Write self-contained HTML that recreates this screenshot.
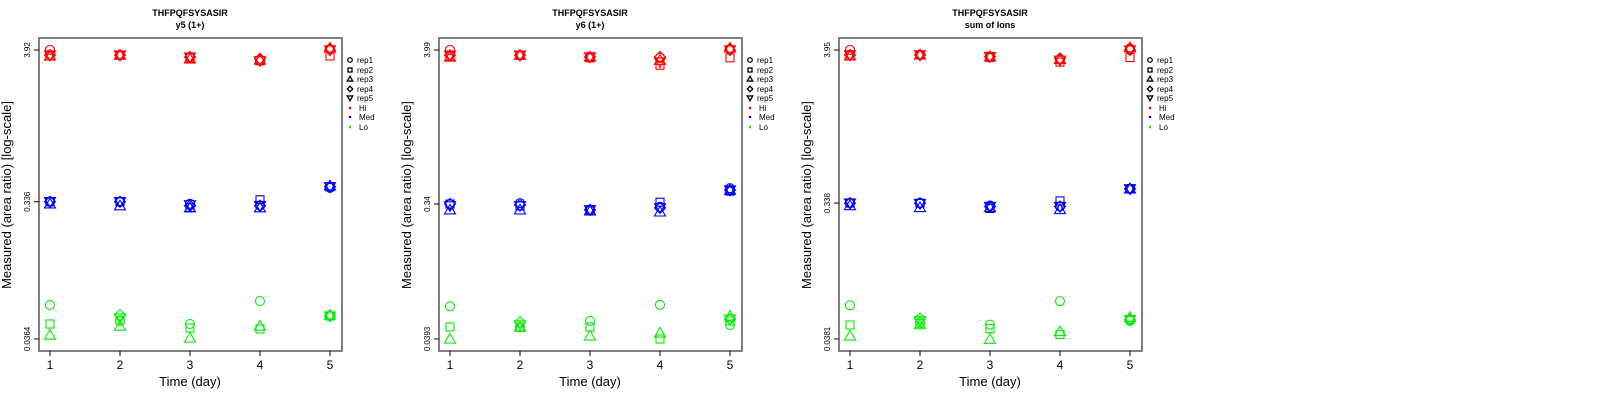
<!DOCTYPE html>
<html><head><meta charset="utf-8"><style>
body{margin:0;background:#fff;width:1600px;height:400px;overflow:hidden}
svg{display:block;font-family:"Liberation Sans",sans-serif}
</style></head><body>
<svg id="chart" width="1600" height="400"></svg>
<script>
const days = [1,2,3,4,5];
const reps = ["rep1","rep2","rep3","rep4","rep5"];
const levels = ["Hi","Med","Lo"];
const panelTitles = ["y5 (1+)","y6 (1+)","sum of Ions"];
const peptide = "THFPQFSYSASIR";
const tickLabels1 = [3.92,0.336,0.0364];
const tickLabels2 = [3.99,0.34,0.0393];
const tickLabels3 = [3.95,0.338,0.0381];
// values [day][rep]
const p1Hi = [[3.92,3.56,3.56,3.61,3.61],[3.61,3.61,3.61,3.61,3.61],[3.50,3.45,3.40,3.50,3.50],[3.34,3.29,3.34,3.40,3.29],[3.98,3.56,4.05,3.92,3.92]];
const p1Med = [[.336,.336,.325,.336,.336],[.336,.336,.315,.336,.336],[.325,.305,.305,.315,.320],[.315,.347,.305,.315,.315],[.421,.428,.435,.428,.428]];
const p1Lo = [[.0631,.0464,.0388,null,null],[.0487,.0495,.0449,.0537,.0511],[.0464,.0435,.0370,null,null],[.0673,.0428,.0449,null,null],[.0528,.0528,.0537,.0528,.0528]];
const p2Hi = [[3.99,3.62,3.57,3.67,3.67],[3.67,3.67,3.67,3.67,3.67],[3.57,3.52,3.57,3.57,3.57],[3.52,3.13,3.39,3.57,3.29],[4.05,3.52,4.12,3.99,3.99]];
const p2Med = [[.34,.34,.31,.34,.33],[.345,.33,.31,.335,.33],[.31,.305,.305,.31,.31],[.325,.35,.30,.32,.32],[.438,.418,.425,.425,.425]];
const p2Lo = [[.0664,.0476,.0393,null,null],[.0476,.0476,.0476,.0516,.0492],[.0524,.0476,.0413,null,null],[.0679,.0393,.0433,null,null],[.0492,.0524,.0568,.0540,.0540]];
const p3Hi = [[3.95,3.60,3.60,3.65,3.65],[3.65,3.65,3.65,3.65,3.65],[3.55,3.50,3.55,3.55,3.55],[3.40,3.25,3.40,3.45,3.35],[4.05,3.50,4.10,3.95,3.95]];
const p3Med = [[.338,.338,.325,.338,.338],[.338,.338,.315,.338,.335],[.325,.31,.315,.32,.32],[.32,.35,.305,.32,.32],[.425,.425,.425,.425,.425]];
const p3Lo = [[.0655,.0477,.040,null,null],[.050,.049,.048,.053,.051],[.048,.045,.038,null,null],[.070,.041,.043,null,null],[.051,.052,.054,.052,.052]];

const panels = [
 {ticks:tickLabels1, data:[p1Hi,p1Med,p1Lo]},
 {ticks:tickLabels2, data:[p2Hi,p2Med,p2Lo]},
 {ticks:tickLabels3, data:[p3Hi,p3Med,p3Lo]}
];
const colors = {Hi:"#ff0000",Med:"#0000ff",Lo:"#00ee00"};
const NS="http://www.w3.org/2000/svg";
const svg=document.getElementById("chart");
function mk(tag,attrs,parent){const e=document.createElementNS(NS,tag);for(const k in attrs)e.setAttribute(k,attrs[k]);(parent||svg).appendChild(e);return e;}

function marker(g,shape,x,y,col,sc){
  sc=sc||1;let e;
  if(shape===0){e=mk("circle",{cx:x,cy:y,r:4.5*sc},g);}
  else if(shape===1){const s=4*sc;e=mk("rect",{x:x-s,y:y-s,width:2*s,height:2*s},g);}
  else if(shape===2){const s=5.5*sc;e=mk("polygon",{points:`${x},${y-s} ${x+s},${y+s*0.75} ${x-s},${y+s*0.75}`},g);}
  else if(shape===3){const s=5.5*sc;e=mk("polygon",{points:`${x},${y-s} ${x+s},${y} ${x},${y+s} ${x-s},${y}`},g);}
  else {const s=5.5*sc;e=mk("polygon",{points:`${x},${y+s} ${x+s},${y-s*0.75} ${x-s},${y-s*0.75}`},g);}
  e.setAttribute("fill","none");e.setAttribute("stroke",col);e.setAttribute("stroke-width",sc<1?1.3:1.1);
  return e;
}

panels.forEach((p,pi)=>{
  const ox=pi*400;
  const g=mk("g",{});
  
  
  const L=ox+39,R=ox+342,T=38,B=351;
  const xS=d=>ox+50+(d-1)*70;
  const top=Math.log10(p.ticks[0]),bot=Math.log10(p.ticks[2]);
  const yS=v=>50+(top-Math.log10(v))/(top-bot)*289;
  const t1=mk("text",{x:ox+190,y:16,"text-anchor":"middle","font-size":"9","font-weight":"600"},g);t1.textContent=peptide;
  
  const t2=mk("text",{x:ox+190,y:28,"text-anchor":"middle","font-size":"9","font-weight":"600"},g);t2.textContent=panelTitles[pi];
  
  const box=mk("rect",{x:L,y:T,width:R-L,height:B-T,fill:"none",stroke:"#555","stroke-width":1.5},g);
  
  p.ticks.forEach(tv=>{
    const y=yS(tv);
    mk("line",{x1:L-5,x2:L,y1:y,y2:y,stroke:"#000"},g);
    const t=mk("text",{x:ox+30,y:y,"text-anchor":"middle","font-size":"8",transform:`rotate(-90 ${ox+30} ${y})`},g);
    t.textContent=String(tv);
    
  });
  days.forEach(d=>{
    const x=xS(d);
    mk("line",{x1:x,x2:x,y1:B,y2:B+5,stroke:"#000"},g);
    const t=mk("text",{x:x,y:369,"text-anchor":"middle","font-size":"12"},g);t.textContent=d;
    
  });
  const xl=mk("text",{x:ox+190,y:386,"text-anchor":"middle","font-size":"13"},g);xl.textContent="Time (day)";
  
  const yl=mk("text",{x:ox+11,y:195,"text-anchor":"middle","font-size":"13",transform:`rotate(-90 ${ox+11} 195)`},g);yl.textContent="Measured (area ratio) [log-scale]";
  
  levels.forEach((lv,li)=>{
    p.data[li].forEach((row,di)=>{
      row.forEach((v,ri)=>{
        if(v==null)return;
        const m=marker(g,ri,xS(days[di]),yS(v),colors[lv]);
        
        
      });
    });
  });
  const lg=mk("g",{},g);
  
  const rowsY=[60,70,79,89,98,108,117,127];
  reps.forEach((r,i)=>{
    const m=marker(lg,i,ox+350,rowsY[i],"#000",0.5);
    
    const t=mk("text",{x:ox+357,y:rowsY[i]+3,"font-size":"8"},lg);t.textContent=r;
    
  });
  levels.forEach((lv,i)=>{
    const y=rowsY[5+i];
    const c=mk("circle",{cx:ox+350,cy:y,r:1.3,fill:colors[lv]},lg);
    
    const t=mk("text",{x:ox+359,y:y+3,"font-size":"8"},lg);t.textContent=lv;
    
  });
});
</script>
</body></html>
